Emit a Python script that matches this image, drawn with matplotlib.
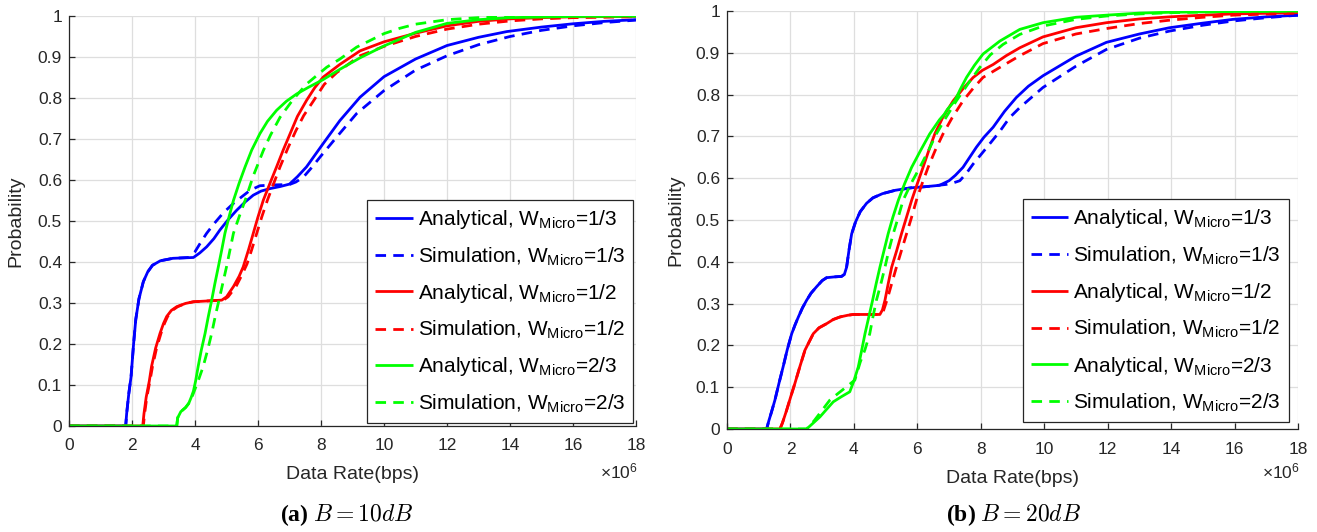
import matplotlib
matplotlib.use("Agg")
import matplotlib.pyplot as plt
from matplotlib.ticker import FuncFormatter

plt.rcParams['font.family'] = ['Liberation Sans', 'DejaVu Sans']
plt.rcParams['mathtext.fontset'] = 'custom'
plt.rcParams['mathtext.rm'] = 'Liberation Sans'
plt.rcParams['mathtext.it'] = 'Liberation Sans:italic'
plt.rcParams['mathtext.bf'] = 'Liberation Sans:bold'

SCALE = 1e6  # data rates in Mbps units below, converted to bps

# ---------------- Panel (a): B = 10 dB ----------------
a_ana13_x = [0, 1.80, 1.83, 1.90, 1.97, 2.05, 2.12, 2.22, 2.36, 2.5, 2.65, 2.9, 3.3, 3.95,
             4.15, 4.37, 4.6, 4.79, 5.05, 5.32, 5.6, 5.85, 6.1, 6.38, 6.7, 7.0, 7.25, 7.54,
             7.8, 8.07, 8.6, 9.24, 10.0, 11.0, 12.0, 13.0, 13.9, 15.0, 16.0, 17.0, 18.0]
a_ana13_y = [0, 0, 0.03, 0.08, 0.12, 0.2, 0.26, 0.31, 0.352, 0.376, 0.392, 0.403, 0.409, 0.411,
             0.422, 0.437, 0.457, 0.478, 0.503, 0.526, 0.547, 0.563, 0.573, 0.579, 0.584, 0.590,
             0.608, 0.632, 0.66, 0.689, 0.745, 0.802, 0.852, 0.895, 0.928, 0.948, 0.962, 0.973,
             0.981, 0.987, 0.991]

a_sim13_x = [0, 1.80, 1.83, 1.90, 1.97, 2.05, 2.12, 2.22, 2.36, 2.5, 2.65, 2.9, 3.3, 3.8,
             4.0, 4.2, 4.37, 4.6, 4.9, 5.22, 5.5, 5.75, 6.06, 6.5, 7.0, 7.2, 7.44, 7.7, 7.97,
             8.5, 9.13, 10.0, 11.0, 12.0, 13.0, 14.0, 15.0, 16.0, 17.0, 18.0]
a_sim13_y = [0, 0, 0.03, 0.08, 0.12, 0.2, 0.26, 0.31, 0.352, 0.376, 0.392, 0.403, 0.409, 0.411,
             0.425, 0.45, 0.47, 0.493, 0.52, 0.543, 0.56, 0.575, 0.586, 0.588, 0.589, 0.595,
             0.607, 0.63, 0.656, 0.705, 0.762, 0.818, 0.868, 0.903, 0.93, 0.95, 0.965, 0.976,
             0.984, 0.99]

a_ana12_x = [0, 2.34, 2.38, 2.45, 2.55, 2.62, 2.75, 2.89, 3.0, 3.1, 3.25, 3.42, 3.7, 3.95, 4.4,
             4.85, 5.0, 5.22, 5.4, 5.53, 5.7, 5.85, 6.0, 6.17, 6.38, 6.59, 6.8, 7.02, 7.25, 7.54,
             7.8, 8.07, 8.6, 9.24, 10.0, 11.0, 12.0, 13.0, 14.0, 15.0, 16.0, 18.0]
a_ana12_y = [0, 0, 0.03, 0.07, 0.11, 0.145, 0.19, 0.226, 0.25, 0.267, 0.282, 0.291, 0.299, 0.303,
             0.305, 0.307, 0.315, 0.34, 0.365, 0.388, 0.43, 0.47, 0.51, 0.551, 0.592, 0.632,
             0.673, 0.713, 0.755, 0.794, 0.825, 0.851, 0.882, 0.915, 0.937, 0.958, 0.976, 0.987,
             0.993, 0.996, 0.998, 0.999]

a_sim12_x = [0, 2.36, 2.40, 2.47, 2.57, 2.65, 2.78, 2.92, 3.03, 3.13, 3.28, 3.45, 3.7, 3.95, 4.4,
             4.9, 5.05, 5.3, 5.5, 5.65, 5.8, 5.96, 6.12, 6.3, 6.5, 6.7, 6.95, 7.2, 7.45, 7.77,
             8.1, 8.5, 9.24, 10.0, 11.0, 12.0, 13.0, 14.0, 15.0, 16.0, 18.0]
a_sim12_y = [0, 0, 0.03, 0.07, 0.11, 0.145, 0.19, 0.226, 0.25, 0.267, 0.282, 0.291, 0.299, 0.303,
             0.305, 0.307, 0.315, 0.34, 0.37, 0.395, 0.43, 0.47, 0.51, 0.551, 0.592, 0.632,
             0.678, 0.72, 0.757, 0.794, 0.833, 0.862, 0.903, 0.926, 0.95, 0.968, 0.98, 0.988,
             0.993, 0.996, 0.998]

a_ana23_x = [0, 3.42, 3.45, 3.55, 3.7, 3.8, 3.88, 3.95, 4.02, 4.1, 4.2, 4.32, 4.42, 4.53, 4.63,
             4.74, 4.85, 4.95, 5.08, 5.22, 5.4, 5.59, 5.8, 6.06, 6.3, 6.59, 6.9, 7.23, 7.6, 8.07,
             8.6, 9.24, 10.0, 11.0, 12.0, 13.0, 14.0, 16.0, 18.0]
a_ana23_y = [0, 0, 0.02, 0.035, 0.045, 0.055, 0.07, 0.085, 0.11, 0.145, 0.185, 0.226, 0.266,
             0.307, 0.347, 0.388, 0.43, 0.47, 0.51, 0.55, 0.592, 0.632, 0.673, 0.713, 0.743,
             0.77, 0.792, 0.81, 0.826, 0.845, 0.87, 0.898, 0.927, 0.96, 0.982, 0.991, 0.996,
             0.999, 1.0]

a_sim23_x = [0, 3.42, 3.45, 3.55, 3.7, 3.8, 3.9, 4.0, 4.1, 4.26, 4.4, 4.53, 4.65, 4.8, 5.0,
             5.22, 5.4, 5.59, 5.85, 6.17, 6.4, 6.7, 7.1, 7.54, 8.18, 8.6, 9.13, 10.0, 10.5,
             11.0, 12.0, 13.0, 14.0, 16.0, 18.0]
a_sim23_y = [0, 0, 0.02, 0.035, 0.045, 0.055, 0.07, 0.09, 0.11, 0.145, 0.185, 0.226, 0.27,
             0.32, 0.388, 0.47, 0.51, 0.55, 0.61, 0.672, 0.71, 0.753, 0.795, 0.834, 0.875,
             0.895, 0.924, 0.957, 0.97, 0.98, 0.991, 0.996, 0.998, 1.0, 1.0]

# ---------------- Panel (b): B = 20 dB ----------------
b_ana13_x = [0, 1.25, 1.32, 1.4, 1.51, 1.64, 1.77, 1.9, 2.04, 2.15, 2.25, 2.38, 2.51, 2.65,
             2.82, 3.0, 3.14, 3.4, 3.61, 3.7, 3.77, 3.85, 3.93, 4.05, 4.2, 4.4, 4.6, 4.9, 5.3,
             5.8, 6.3, 6.7, 7.0, 7.2, 7.44, 7.65, 7.86, 8.1, 8.39, 8.75, 9.12, 9.5, 9.96, 11.0,
             11.96, 13.0, 13.95, 15.0, 15.95, 17.0, 18.0]
b_ana13_y = [0, 0, 0.02, 0.04, 0.069, 0.11, 0.149, 0.19, 0.228, 0.25, 0.268, 0.29, 0.308,
             0.325, 0.34, 0.355, 0.362, 0.364, 0.365, 0.37, 0.387, 0.43, 0.467, 0.495, 0.52,
             0.54, 0.553, 0.563, 0.571, 0.577, 0.58, 0.583, 0.594, 0.607, 0.626, 0.65, 0.674,
             0.698, 0.722, 0.76, 0.793, 0.82, 0.845, 0.892, 0.925, 0.945, 0.96, 0.971, 0.98,
             0.986, 0.99]

b_sim13_x = [0, 1.25, 1.32, 1.4, 1.51, 1.64, 1.77, 1.9, 2.04, 2.15, 2.25, 2.38, 2.51, 2.65,
             2.82, 3.0, 3.14, 3.4, 3.61, 3.7, 3.77, 3.85, 3.93, 4.05, 4.2, 4.4, 4.6, 4.9, 5.3,
             5.8, 6.3, 6.9, 7.1, 7.34, 7.55, 7.76, 8.0, 8.28, 8.6, 8.91, 9.23, 9.96, 11.0,
             11.96, 13.0, 13.95, 15.0, 15.95, 17.0, 18.0]
b_sim13_y = [0, 0, 0.02, 0.04, 0.069, 0.11, 0.149, 0.19, 0.228, 0.25, 0.268, 0.29, 0.308,
             0.325, 0.34, 0.355, 0.362, 0.364, 0.365, 0.37, 0.387, 0.43, 0.467, 0.495, 0.52,
             0.54, 0.553, 0.563, 0.571, 0.577, 0.58, 0.585, 0.588, 0.594, 0.612, 0.634, 0.656,
             0.682, 0.712, 0.745, 0.769, 0.817, 0.868, 0.908, 0.935, 0.952, 0.966, 0.976,
             0.984, 0.99]

b_ana12_x = [0, 1.67, 1.75, 1.88, 2.0, 2.14, 2.3, 2.46, 2.6, 2.72, 2.9, 3.14, 3.35, 3.56,
             3.8, 3.98, 4.4, 4.82, 4.9, 4.98, 5.08, 5.19, 5.35, 5.5, 5.66, 5.82, 6.0, 6.18,
             6.36, 6.55, 6.8, 7.13, 7.45, 7.76, 8.05, 8.39, 8.8, 9.23, 9.96, 11.0, 11.96, 13.0,
             13.95, 15.0, 15.95, 18.0]
b_ana12_y = [0, 0, 0.015, 0.045, 0.075, 0.109, 0.15, 0.189, 0.21, 0.228, 0.242, 0.252, 0.262,
             0.268, 0.272, 0.274, 0.274, 0.274, 0.285, 0.308, 0.347, 0.387, 0.427, 0.467,
             0.507, 0.547, 0.587, 0.626, 0.666, 0.706, 0.745, 0.785, 0.815, 0.841, 0.858,
             0.872, 0.893, 0.912, 0.938, 0.96, 0.972, 0.981, 0.986, 0.99, 0.993, 0.996]

b_sim12_x = [0, 1.67, 1.75, 1.88, 2.0, 2.14, 2.3, 2.46, 2.6, 2.72, 2.9, 3.14, 3.35, 3.56,
             3.8, 3.98, 4.4, 4.82, 4.92, 5.05, 5.2, 5.34, 5.5, 5.66, 5.82, 5.97, 6.15, 6.34,
             6.56, 6.81, 7.1, 7.44, 7.76, 8.07, 8.6, 9.23, 9.96, 11.0, 11.96, 13.0, 13.95,
             15.0, 15.95, 18.0]
b_sim12_y = [0, 0, 0.015, 0.045, 0.075, 0.109, 0.15, 0.189, 0.21, 0.228, 0.242, 0.252, 0.262,
             0.268, 0.272, 0.274, 0.274, 0.274, 0.28, 0.31, 0.35, 0.387, 0.427, 0.467, 0.507,
             0.547, 0.587, 0.626, 0.666, 0.706, 0.745, 0.785, 0.815, 0.841, 0.865, 0.893,
             0.922, 0.945, 0.958, 0.97, 0.978, 0.985, 0.99, 0.995]

b_ana23_x = [0, 2.51, 2.7, 2.93, 3.15, 3.35, 3.6, 3.87, 4.0, 4.14, 4.25, 4.35, 4.47, 4.59,
             4.7, 4.82, 4.95, 5.08, 5.23, 5.4, 5.6, 5.82, 6.1, 6.39, 6.7, 6.85, 6.95, 7.18,
             7.35, 7.55, 7.8, 8.07, 8.6, 9.23, 9.96, 11.0, 11.96, 13.0, 14.0, 16.0, 18.0]
b_ana23_y = [0, 0, 0.013, 0.029, 0.048, 0.065, 0.077, 0.089, 0.115, 0.149, 0.19, 0.228, 0.268,
             0.308, 0.347, 0.387, 0.427, 0.467, 0.507, 0.547, 0.587, 0.626, 0.666, 0.706,
             0.74, 0.753, 0.765, 0.785, 0.812, 0.841, 0.87, 0.897, 0.928, 0.956, 0.972, 0.985,
             0.99, 0.995, 0.997, 0.999, 1.0]

b_sim23_x = [0, 2.51, 2.75, 3.0, 3.24, 3.5, 3.75, 4.03, 4.2, 4.35, 4.5, 4.6, 4.71, 4.85, 4.98,
             5.1, 5.24, 5.4, 5.55, 5.8, 6.08, 6.35, 6.6, 6.9, 7.23, 7.6, 7.97, 8.3, 8.7, 9.23,
             9.96, 11.0, 11.96, 13.0, 14.0, 16.0, 18.0]
b_sim23_y = [0, 0, 0.02, 0.045, 0.069, 0.085, 0.1, 0.117, 0.16, 0.19, 0.228, 0.268, 0.308,
             0.347, 0.387, 0.427, 0.467, 0.507, 0.547, 0.587, 0.626, 0.666, 0.706, 0.745,
             0.785, 0.826, 0.865, 0.895, 0.92, 0.944, 0.964, 0.98, 0.988, 0.993, 0.996, 0.999,
             1.0]

x_ticks = [0, 2, 4, 6, 8, 10, 12, 14, 16, 18]
y_ticks = [0, 0.1, 0.2, 0.3, 0.4, 0.5, 0.6, 0.7, 0.8, 0.9, 1.0]
labels = [r'Analytical, W$_{\mathregular{Micro}}$=1/3', r'Simulation, W$_{\mathregular{Micro}}$=1/3',
          r'Analytical, W$_{\mathregular{Micro}}$=1/2', r'Simulation, W$_{\mathregular{Micro}}$=1/2',
          r'Analytical, W$_{\mathregular{Micro}}$=2/3', r'Simulation, W$_{\mathregular{Micro}}$=2/3']
colors = ['#0000ff', '#0000ff', '#ff0000', '#ff0000', '#00ff00', '#00ff00']
captions = [r'(a) $B = 10dB$', r'(b) $B = 20dB$']

panels = [
    [(a_ana13_x, a_ana13_y), (a_sim13_x, a_sim13_y), (a_ana12_x, a_ana12_y),
     (a_sim12_x, a_sim12_y), (a_ana23_x, a_ana23_y), (a_sim23_x, a_sim23_y)],
    [(b_ana13_x, b_ana13_y), (b_sim13_x, b_sim13_y), (b_ana12_x, b_ana12_y),
     (b_sim12_x, b_sim12_y), (b_ana23_x, b_ana23_y), (b_sim23_x, b_sim23_y)],
]

W, H = 1317, 532
fig = plt.figure(figsize=(W / 100, H / 100), dpi=100)

# axes boxes in pixels: left, top, right, bottom
boxes = [(69, 16, 636, 426), (727, 11, 1298, 429)]
legend_anchor = [(0.995, 0.008), (0.984, 0.017)]
ylabel_x = [-0.078, -0.075]
caption_x = [347, 1014]
dark = '#262626'

for i, (box, series) in enumerate(zip(boxes, panels)):
    l, t, r, b = box
    ax = fig.add_axes([l / W, 1 - b / H, (r - l) / W, (b - t) / H])
    for k, ((xs, ys), lab, c) in enumerate(zip(series, labels, colors)):
        ls = '-' if k % 2 == 0 else (0, (3.8, 2.6))
        ax.plot([v * SCALE for v in xs], ys, color=c, lw=2.0, linestyle=ls, label=lab,
                solid_capstyle='butt', dash_capstyle='butt')
    ax.set_xlim(0, 18 * SCALE)
    ax.set_ylim(0, 1)
    ax.set_xticks([v * SCALE for v in x_ticks])
    ax.set_yticks(y_ticks)
    ax.xaxis.set_major_formatter(FuncFormatter(lambda v, p: f'{v / SCALE:g}'))
    ax.yaxis.set_major_formatter(FuncFormatter(lambda v, p: f'{v:g}'))
    ax.grid(True, color='#dedede', lw=0.9)
    ax.set_axisbelow(True)
    for s in ['top', 'right']:
        ax.spines[s].set_visible(False)
    for s in ['left', 'bottom']:
        ax.spines[s].set_color(dark)
        ax.spines[s].set_linewidth(0.9)
    ax.tick_params(direction='in', length=4.5, width=0.9, color=dark, labelcolor=dark,
                   labelsize=12.5, top=False, right=False)
    ax.tick_params(axis='x', pad=9)
    ax.tick_params(axis='y', pad=5)
    ax.set_xlabel('Data Rate(bps)', fontsize=14, color=dark)
    ax.xaxis.set_label_coords(0.5, -0.097)
    ax.set_ylabel('Probability', fontsize=14, color=dark)
    ax.yaxis.set_label_coords(ylabel_x[i], 0.5)
    fig.text((r + 2) / W, 1 - 471 / H, r'$\times\mathregular{10^{6}}$', ha='right', va='center',
             fontsize=12.5, color=dark)
    leg = ax.legend(loc='lower right', bbox_to_anchor=legend_anchor[i], borderaxespad=0,
                    fontsize=15, frameon=True, fancybox=False, framealpha=1,
                    edgecolor='#262626', handlelength=1.8, handletextpad=0.25,
                    labelspacing=0.68, borderpad=0.38)
    leg.get_frame().set_linewidth(0.9)
    fig.text(caption_x[i] / W, 1 - 515 / H, captions[i], ha='center', va='center',
             fontsize=17, fontfamily='Liberation Serif', fontweight='bold',
             math_fontfamily='cm')

fig.savefig('out.png', dpi=100)
